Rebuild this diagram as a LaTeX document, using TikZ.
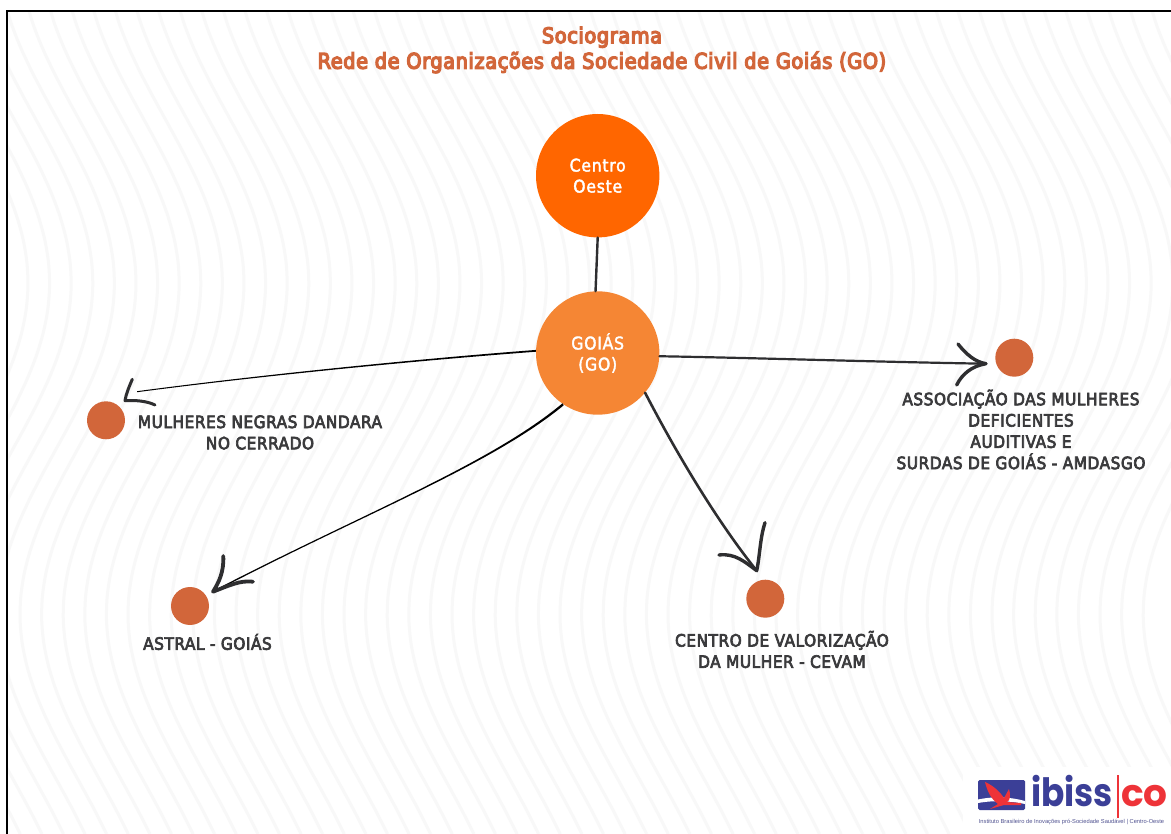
\documentclass[tikz,border=0pt]{standalone}
\usepackage{fontspec}
\usetikzlibrary{calc}
\setmainfont{DejaVu Sans Condensed}
\newfontfamily\lblfont{DejaVu Sans Condensed}[LetterSpace=3.4,RawFeature={embolden=4}]
\newfontfamily\ttlfont{DejaVu Sans Condensed}[LetterSpace=2.8,RawFeature={embolden=6}]
\newfontfamily\dotfont{DejaVu Sans Condensed}[LetterSpace=4,RawFeature={embolden=2}]
\newfontfamily\logofont{Poppins Bold}[FakeStretch=0.88]
\newfontfamily\logofontb{Poppins Bold}
\newfontfamily\logosmall{Liberation Sans}
\definecolor{wave}{HTML}{F8F8F8}
\definecolor{orangeA}{HTML}{FF6600}
\definecolor{orangeB}{HTML}{F58634}
\definecolor{rust}{HTML}{D2663A}
\definecolor{ink}{HTML}{3A3A3C}
\definecolor{stroke}{HTML}{2E2E30}
\definecolor{ibblue}{HTML}{3B3F97}
\definecolor{ibred}{HTML}{EE3338}
\tikzset{
 x=1pt,y=-1pt,
 bigdot/.style={circle,minimum size=123.4pt,inner sep=0pt,text=white,align=center,font=\dotfont\fontsize{17.5}{21}\selectfont},
 dot/.style={circle,fill=rust,minimum size=38pt,inner sep=0pt},
 lbl/.style={inner sep=0pt,align=center,text=ink,font=\lblfont\fontsize{17}{21.3}\selectfont},
 ttl/.style={inner sep=0pt,align=center,text=rust,font=\ttlfont\fontsize{21.5}{25.5}\selectfont},
 conn/.style={draw=stroke,line cap=round,line join=round},
 head/.style={draw=stroke,line width=3.4pt,line cap=round,line join=round},
}
\begin{document}
\begin{tikzpicture}
\useasboundingbox (0,0) rectangle (1171,834);
\fill[white] (0,0) rectangle (1171,834);
% background waves
\begin{scope}
\clip (7,11) rectangle (1171,834);
\foreach \k in {-1,...,57}{
  \draw[wave,line width=3pt] plot[smooth,variable=\t,domain=0:834,samples=36]
    ({-30+21.6*\k+58*sin(0.5438*(\t-117.5))},{\t});
}
\end{scope}
% frame
\draw[black,line width=2pt] (7,834) -- (7,11) -- (1171,11);
% title
\node[ttl] (title) at (602,50) {Sociograma\\Rede de Organizações da Sociedade Civil de Goiás (GO)};
% main nodes
\node[bigdot,fill=orangeA] (centro) at (597.7,175.7) {Centro\\Oeste};
\node[bigdot,fill=orangeB] (goias) at (597.7,353) {GOIÁS\\(GO)};
\node[dot] (mulheres) at (106,420.3) {};
\node[dot] (astral) at (190,606) {};
\node[dot] (cevam) at (765.3,598.7) {};
\node[dot] (assoc) at (1014.3,357.7) {};
% labels
\node[lbl] (lmul) at (260,432.5) {MULHERES NEGRAS DANDARA\\NO CERRADO};
\node[lbl] (last) at (207.5,642) {ASTRAL - GOIÁS};
\node[lbl] (lcev) at (782,649.5) {CENTRO DE VALORIZAÇÃO\\DA MULHER - CEVAM};
\node[lbl] (lass) at (1021,429.5) {ASSOCIAÇÃO DAS MULHERES\\DEFICIENTES\\AUDITIVAS E\\SURDAS DE GOIÁS - AMDASGO};
% arrow tips
\coordinate (tipM) at (137,391.7);
\coordinate (tipA) at (213,591.7);
\coordinate (tipC) at (756.7,570.7);
\coordinate (tipS) at (986,363.7);
% connectors
\draw[conn,line width=2.4pt] (centro.south) -- (goias.92);
% tapered connector to Mulheres
\fill[stroke] ($(goias.178)+(0,-0.9)$) .. controls (430,358) and (270,373.5) .. ($(tipM)+(0,-0.5)$)
  -- ($(tipM)+(0,0.5)$) .. controls (270,374.7) and (430,359.6) .. ($(goias.178)+(0,0.9)$) -- cycle;
% tapered connector to Astral
\fill[stroke] ($(goias.236)+(-0.6,-1)$) .. controls (489.5,464.4) and (359.8,514.6) .. ($(tipA)+(-0.35,-0.6)$)
  -- ($(tipA)+(0.35,0.6)$) .. controls (360.2,515.4) and (490.5,465.6) .. ($(goias.236)+(0.6,1)$) -- cycle;
\draw[conn,line width=2.6pt] (goias.-40) .. controls (680,460) and (720,525) .. (tipC);
\draw[conn,line width=2.2pt] (goias.-3) .. controls (760,358) and (880,362) .. (tipS);
% arrow heads
\coordinate (mA) at (132.3,379.3); \coordinate (mV) at (125,400.7); \coordinate (mB) at (155,405);
\draw[head,line width=3pt] (mA) .. controls (129,387) and (126,394) .. (mV) .. controls (135,400) and (147,401) .. (mB);
\coordinate (aA) at (223.3,556); \coordinate (aV) at (213,591.7); \coordinate (aB) at (253,581.7);
\draw[head,line width=3.8pt] (aA) .. controls (224,572) and (219,582) .. (aV) .. controls (228,586) and (240,580) .. (aB);
\coordinate (cA) at (765,522.7); \coordinate (cV) at (756.7,570.7); \coordinate (cB) at (719,555);
\draw[head] (cA) .. controls (760,538) and (760,555) .. (cV) .. controls (745,562) and (735,553) .. (cB);
\coordinate (sA) at (958,344); \coordinate (sV) at (986,363.7); \coordinate (sB) at (956.7,385);
\draw[head] (sA) .. controls (966,354) and (975,362) .. (sV) .. controls (972,366) and (962,374) .. (sB);
% logo
\fill[white] (963,767) rectangle (1171,834);
\fill[ibblue,rounded corners=1.5pt] (978,780) rectangle (1025,810);
\fill[white] (978,799.5) .. controls (995,796) and (1010,797) .. (1025,801) -- (1025,804) .. controls (1010,801) and (995,800) .. (978,803) -- cycle;
\fill[ibred] (985,782) .. controls (994,786) and (1000,792) .. (1004,798) -- (1009,789) .. controls (1011,795) and (1010,801) .. (1007,802) -- (1021,803) -- (1021,805) -- (1004,805) -- (990,809) -- (998,804) .. controls (990,798) and (987,790) .. (985,782) -- cycle;
\node[inner sep=0pt,anchor=base west,text=ibblue,font=\logofont\fontsize{39}{39}\selectfont] (logoA) at (1031,806) {ibiss};
\fill[ibred] (1116.7,775) rectangle (1118.9,818);
\node[inner sep=0pt,anchor=base west,text=ibred,font=\logofontb\fontsize{37.5}{39}\selectfont] (logoB) at (1121,806) {co};
\node[inner sep=0pt,anchor=center,text=ibblue!70!gray,font=\logosmall\fontsize{5.75}{7}\selectfont] (logoC) at (1071.5,822) {Instituto Brasileiro de Inovações pró-Sociedade Saudável | Centro-Oeste};
\end{tikzpicture}
\end{document}
